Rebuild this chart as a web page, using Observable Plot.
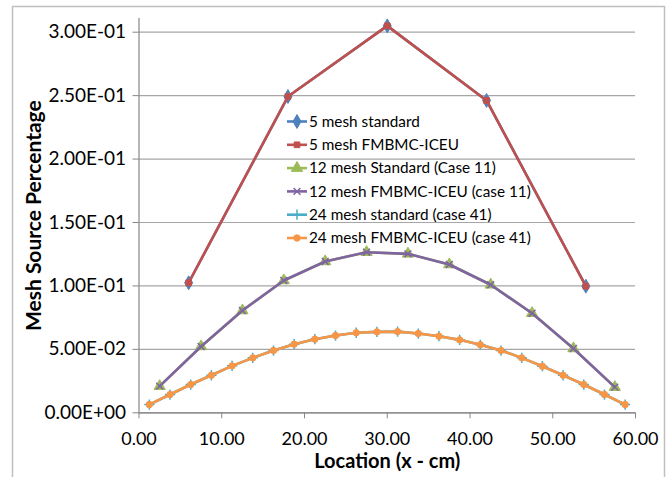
<!DOCTYPE html>
<html>
<head>
<meta charset="utf-8">
<script src="https://cdn.jsdelivr.net/npm/d3@7"></script>
<script src="https://cdn.jsdelivr.net/npm/@observablehq/plot@0.6"></script>
<style>
  html, body { margin: 0; padding: 0; background: #fff; }
  #chart { position: relative; width: 670px; height: 477px; overflow: hidden; }
</style>
</head>
<body>
<div id="chart"></div>
<script>
// ---- data ----
const x5 = [6, 18, 30, 42, 54];
const std5 = [0.1025, 0.2493, 0.3050, 0.2462, 0.0998];
const fm5  = [0.1025, 0.2493, 0.3050, 0.2462, 0.0998];

const x12 = [2.5, 7.5, 12.5, 17.5, 22.5, 27.5, 32.5, 37.5, 42.5, 47.5, 52.5, 57.5];
const std12 = [0.0210, 0.0523, 0.0806, 0.1043, 0.1193, 0.1266, 0.1253, 0.1169, 0.1009, 0.0785, 0.0507, 0.0202];
const fm12  = [0.0210, 0.0523, 0.0806, 0.1043, 0.1193, 0.1266, 0.1253, 0.1169, 0.1009, 0.0785, 0.0507, 0.0202];

const x24 = [1.25, 3.75, 6.25, 8.75, 11.25, 13.75, 16.25, 18.75, 21.25, 23.75, 26.25, 28.75,
             31.25, 33.75, 36.25, 38.75, 41.25, 43.75, 46.25, 48.75, 51.25, 53.75, 56.25, 58.75];
const std24 = [0.0065, 0.0144, 0.0223, 0.0296, 0.0370, 0.0433, 0.0491, 0.0541, 0.0580, 0.0609, 0.0631, 0.0638,
               0.0640, 0.0625, 0.0604, 0.0575, 0.0536, 0.0491, 0.0433, 0.0367, 0.0296, 0.0223, 0.0144, 0.0065];
const fm24  = [0.0065, 0.0144, 0.0223, 0.0296, 0.0370, 0.0433, 0.0491, 0.0541, 0.0580, 0.0609, 0.0631, 0.0638,
               0.0640, 0.0625, 0.0604, 0.0575, 0.0536, 0.0491, 0.0433, 0.0367, 0.0296, 0.0223, 0.0144, 0.0065];

const seriesNames = [
  "5 mesh standard",
  "5 mesh FMBMC-ICEU",
  "12 mesh Standard (Case 11)",
  "12 mesh FMBMC-ICEU (case 11)",
  "24 mesh standard (case 41)",
  "24 mesh FMBMC-ICEU (case 41)"
];
const xTicks = [0, 10, 20, 30, 40, 50, 60];
const yTicks = [0, 0.05, 0.10, 0.15, 0.20, 0.25, 0.30];
const xTitle = "Location (x - cm)";
const yTitle = "Mesh Source Percentage";

// ---- styles ----
const FONT = "Lato, 'Open Sans', sans-serif";
const colors  = ["#4F81BD", "#C0504D", "#9BBB59", "#8064A2", "#4BACC6", "#F79646"];
const symbols = ["diamond", "square", "triangle", "times", "plus", "circle"];
const radii   = [4.2, 3.2, 4.2, 3.2, 3.4, 3.2];
const strokeSymbols = new Set(["times", "plus"]);

function excelExp(v) {
  if (v === 0) return "0.00E+00";
  let e = Math.floor(Math.log10(Math.abs(v)) + 1e-9);
  let m = v / Math.pow(10, e);
  return m.toFixed(2) + "E" + (e < 0 ? "-" : "+") + String(Math.abs(e)).padStart(2, "0");
}

const xs = [x5, x5, x12, x12, x24, x24];
const ys = [std5, fm5, std12, fm12, std24, fm24];
const data = ys.map((vals, s) => vals.map((v, i) => ({series: seriesNames[s], x: xs[s][i], y: v})));

const seriesMarks = [];
data.forEach((d, s) => {
  seriesMarks.push(Plot.line(d, {x: "x", y: "y", stroke: colors[s], strokeWidth: 2.6, strokeLinejoin: "round"}));
  const isStroke = strokeSymbols.has(symbols[s]);
  seriesMarks.push(Plot.dot(d, {
    x: "x", y: "y", symbol: () => symbols[s], r: radii[s],
    fill: isStroke ? "none" : colors[s],
    stroke: colors[s], strokeWidth: isStroke ? 1.5 : 1
  }));
});

const plot = Plot.plot({
  width: 670, height: 477,
  marginLeft: 138.5, marginRight: 35, marginTop: 18, marginBottom: 64.7,
  style: {fontFamily: FONT, fontSize: "18px", color: "#000", background: "transparent"},
  x: {domain: [0, 60]},
  y: {domain: [0, 0.3108]},
  symbol: {type: "identity"},
  marks: [
    Plot.gridY(yTicks, {stroke: "#A6A6A6", strokeOpacity: 1, strokeWidth: 1.2}),
    Plot.ruleX([0], {stroke: "#868686", strokeWidth: 1.2}),
    Plot.ruleY([0], {stroke: "#868686", strokeWidth: 1.2}),
    Plot.axisX({ticks: xTicks, tickFormat: d => d.toFixed(2), tickSize: 6, tickPadding: 13, label: null, stroke: "#868686", fontSize: 18}),
    Plot.axisY({ticks: yTicks, tickFormat: excelExp, tickSize: 6, tickPadding: 7, label: null, stroke: "#868686", fontSize: 19}),
    Plot.text([xTitle], {frameAnchor: "bottom", dy: 55, fontWeight: "bold", fontSize: 20}),
    Plot.text([yTitle], {frameAnchor: "left", dx: -105, rotate: -90, textAnchor: "middle", fontWeight: "bold", fontSize: 21}),
    ...seriesMarks
  ]
});

document.getElementById("chart").appendChild(plot);

// ---- chart border + legend ----
const svg = d3.select(plot);
svg.insert("rect", ":first-child")
  .attr("x", 12.5).attr("y", 6.5).attr("width", 652).attr("height", 480)
  .attr("fill", "#fff").attr("stroke", "#BFBFBF").attr("stroke-width", 1.5);

const lg = svg.append("g").attr("font-family", FONT).attr("font-size", 15.3).attr("text-anchor", "start");
const legendX = 287, legendY0 = 121.5, legendDy = 23.3;
const d3symbols = {diamond: d3.symbolDiamond, square: d3.symbolSquare, triangle: d3.symbolTriangle,
                   times: d3.symbolTimes, plus: d3.symbolPlus, circle: d3.symbolCircle};
seriesNames.forEach((name, s) => {
  const y = legendY0 + s * legendDy;
  lg.append("line").attr("x1", legendX).attr("x2", legendX + 20).attr("y1", y).attr("y2", y)
    .attr("stroke", colors[s]).attr("stroke-width", 2.6);
  const isStroke = strokeSymbols.has(symbols[s]);
  lg.append("path").attr("transform", `translate(${legendX + 10},${y})`)
    .attr("d", d3.symbol(d3symbols[symbols[s]], Math.PI * radii[s] * radii[s])())
    .attr("fill", isStroke ? "none" : colors[s]).attr("stroke", colors[s]).attr("stroke-width", isStroke ? 1.5 : 1);
  lg.append("text").attr("x", legendX + 22).attr("y", y).attr("dy", "0.35em").attr("text-anchor", "start").text(name);
});
</script>
</body>
</html>
